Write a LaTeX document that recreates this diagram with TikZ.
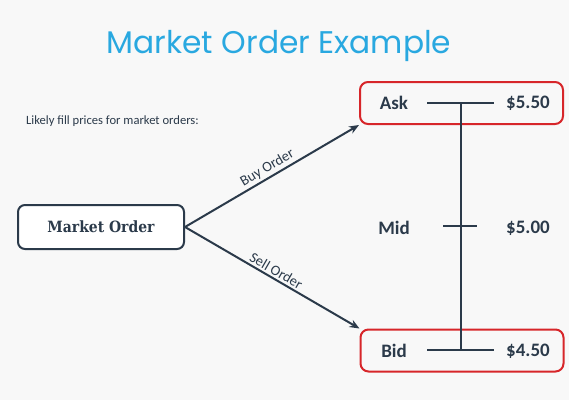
\documentclass[tikz,border=0pt]{standalone}
\usepackage{fontspec}
\usepackage{xcolor}
\usepackage{tikz}
\usetikzlibrary{positioning, calc, arrows.meta}
\setmainfont{Carlito}
\newfontfamily\titlefont{Poppins}
\newfontfamily\slabfont[FakeStretch=0.9]{DejaVu Serif}
\definecolor{ink}{HTML}{2B3A4A}
\definecolor{boxred}{HTML}{D7262A}
\definecolor{titleblue}{HTML}{29A8E0}
\definecolor{paper}{HTML}{F8F8F8}

\begin{document}
\begin{tikzpicture}[x=1pt,y=-1pt,
    pricebox/.style={draw=boxred, line width=2pt, rounded corners=8pt,
      minimum width=203pt, minimum height=42pt},
    orderbox/.style={draw=ink, fill=white, line width=2pt, rounded corners=7pt,
      minimum width=166pt, minimum height=44pt, font=\slabfont\bfseries\fontsize{15.5}{18}\selectfont, text=ink},
    level/.style={font=\bfseries\fontsize{19}{22}\selectfont, text=ink},
    scaleline/.style={draw=ink, line width=2pt},
    order/.style={draw=ink, line width=2pt, -{Stealth[length=10pt, width=8pt]}},
    tag/.style={font=\fontsize{14.5}{17}\selectfont, text=ink, midway, above, sloped, inner sep=2pt}]
      \fill[paper] (0,0) rectangle (569,400);
      \useasboundingbox (0,0) rectangle (569,400);
      \node[anchor=base, text=titleblue, font=\titlefont\fontsize{31.3}{36}\selectfont] (title) at (279,53) {Market Order Example};
      \node[anchor=west, text=ink, font=\fontsize{12.6}{15}\selectfont, inner sep=0pt] (note) at (26,121) {Likely fill prices for market orders:};
      \node[orderbox] (market) at (101,227) {Market Order};
      \node[pricebox] (askbox) at (461.5,103) {};
      \node[pricebox] (bidbox) at (462,350.5) {};
      \node[level] (ask) at (394,103) {Ask};
      \node[level] (mid) at (394,228) {Mid};
      \node[level] (bid) at (394,351) {Bid};
      \node[level] (askp) at (528,103) {\$5.50};
      \node[level] (midp) at (528,228) {\$5.00};
      \node[level] (bidp) at (528,351) {\$4.50};
      % price scale
      \coordinate (askl) at (427,103);
      \coordinate (askr) at (494,103);
      \coordinate (midl) at (443,226);
      \coordinate (midr) at (477,226);
      \coordinate (bidl) at (427,350);
      \coordinate (bidr) at (494,350);
      \draw[scaleline] (askl) -- (askr);
      \draw[scaleline] (midl) -- (midr);
      \draw[scaleline] (bidl) -- (bidr);
      \draw[scaleline] ($(askl)!0.5!(askr)$) -- ($(bidl)!0.5!(bidr)$);
      % orders
      \draw[order] (market.east) -- (askbox.south west) node[tag]{Buy Order};
      \draw[order] (market.east) -- (bidbox.north west) node[tag]{Sell Order};
    \end{tikzpicture}
\end{document}
